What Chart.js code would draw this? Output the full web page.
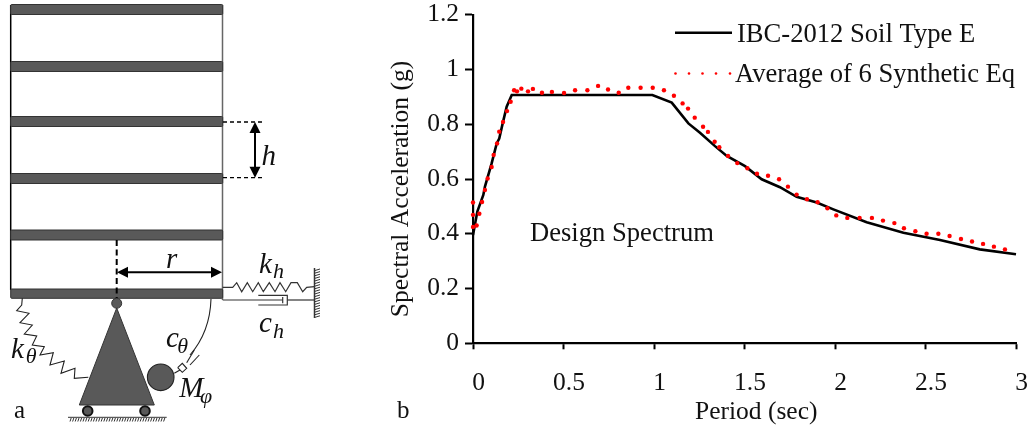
<!DOCTYPE html>
<html>
<head>
<meta charset="utf-8">
<title>Design Spectrum</title>
<script src="https://cdn.jsdelivr.net/npm/chart.js@4"></script>
<style>
   html, body { margin: 0; padding: 0; background: #fff; }
   canvas { display: block; }
</style>
</head>
<body>
<canvas id="chart" width="1034" height="429"></canvas>
<script>
// Values
const designPeriod = [0, 0.024, 0.057, 0.066, 0.103, 0.131, 0.145, 0.164, 0.186, 0.214, 0.991, 1.098, 1.19, 1.254, 1.337, 1.402, 1.503, 1.595, 1.696, 1.788, 1.899, 1.991, 2.175, 2.378, 2.58, 2.8, 3];
const designAccel = [0.395, 0.481, 0.542, 0.572, 0.657, 0.73, 0.748, 0.803, 0.864, 0.907, 0.907, 0.879, 0.803, 0.769, 0.72, 0.684, 0.647, 0.599, 0.57, 0.535, 0.514, 0.489, 0.442, 0.404, 0.377, 0.343, 0.325];
const avgPeriod = [0, 0, 0, 0.02, 0.035, 0.05, 0.066, 0.081, 0.103, 0.114, 0.133, 0.145, 0.166, 0.188, 0.208, 0.227, 0.243, 0.267, 0.304, 0.331, 0.381, 0.436, 0.503, 0.564, 0.632, 0.691, 0.746, 0.805, 0.858, 0.926, 0.993, 1.055, 1.11, 1.158, 1.188, 1.225, 1.271, 1.298, 1.335, 1.361, 1.409, 1.46, 1.516, 1.569, 1.63, 1.691, 1.74, 1.788, 1.845, 1.904, 1.958, 2.007, 2.068, 2.136, 2.204, 2.265, 2.328, 2.381, 2.444, 2.506, 2.571, 2.633, 2.696, 2.757, 2.818, 2.878, 2.939];
const avgAccel = [0.514, 0.469, 0.425, 0.43, 0.473, 0.516, 0.56, 0.602, 0.644, 0.688, 0.73, 0.773, 0.808, 0.848, 0.882, 0.924, 0.92, 0.93, 0.92, 0.929, 0.915, 0.918, 0.914, 0.924, 0.924, 0.94, 0.927, 0.915, 0.933, 0.933, 0.933, 0.924, 0.904, 0.876, 0.857, 0.824, 0.791, 0.772, 0.736, 0.716, 0.684, 0.658, 0.639, 0.619, 0.612, 0.599, 0.572, 0.543, 0.526, 0.515, 0.493, 0.467, 0.458, 0.458, 0.458, 0.448, 0.439, 0.42, 0.409, 0.4, 0.4, 0.392, 0.381, 0.372, 0.363, 0.353, 0.343];
const xTickLabels = ["0", "0.5", "1", "1.5", "2", "2.5", "3"];
const yTickLabels = ["0", "0.2", "0.4", "0.6", "0.8", "1", "1.2"];

const SERIF = "'Liberation Serif', serif";
const SLAB = "#595959";
const WIRE = "#333";
const AXIS_SIZE = 25.5;
const NOTE_SIZE = 26.6;

const toPoints = (xs, ys) => xs.map((x, i) => ({ x, y: ys[i] }));

const polyline = (ctx, pts) => {
   ctx.beginPath();
   pts.forEach((p, i) => (i ? ctx.lineTo(p[0], p[1]) : ctx.moveTo(p[0], p[1])));
   ctx.stroke();
};

const arrowHead = (ctx, x, y, dx, dy) => {
   // dx, dy points to the tip direction
   ctx.beginPath();
   ctx.moveTo(x, y);
   ctx.lineTo(x - dx * 11 - dy * 5.5, y - dy * 11 - dx * 5.5);
   ctx.lineTo(x - dx * 11 + dy * 5.5, y - dy * 11 + dx * 5.5);
   ctx.closePath();
   ctx.fill();
};

const label = (ctx, text, x, y, font) => {
   ctx.font = font;
   ctx.fillText(text, x, y);
};

// Building sketch on the left, it has no data behind it
const drawSketch = (ctx) => {
   ctx.save();
   ctx.lineCap = "butt";

   // walls
   ctx.lineWidth = 1.5;
   ctx.strokeStyle = "#000";
   polyline(ctx, [[10.7, 5], [10.7, 290]]);
   ctx.strokeStyle = "#666";
   polyline(ctx, [[222.5, 5], [222.5, 300]]);

   // floors
   [4.5, 61.5, 116.5, 173.5, 230, 289].forEach((y) => {
      ctx.fillStyle = SLAB;
      ctx.strokeStyle = "#333";
      ctx.lineWidth = 1;
      ctx.beginPath();
      ctx.roundRect(10.7, y, 212, y === 289 ? 9.3 : 10, 1);
      ctx.fill();
      ctx.stroke();
   });

   // h dimension
   ctx.strokeStyle = "#000";
   ctx.fillStyle = "#000";
   ctx.lineWidth = 1.3;
   ctx.setLineDash([4, 3]);
   polyline(ctx, [[223, 122], [264, 122]]);
   polyline(ctx, [[223, 177.7], [264, 177.7]]);
   ctx.setLineDash([]);
   ctx.lineWidth = 2;
   polyline(ctx, [[255, 128], [255, 172]]);
   arrowHead(ctx, 255, 122, 0, -1);
   arrowHead(ctx, 255, 177.7, 0, 1);

   // r dimension
   ctx.setLineDash([6, 3.5]);
   polyline(ctx, [[116.7, 240], [116.7, 298]]);
   ctx.setLineDash([]);
   polyline(ctx, [[124, 272.3], [216, 272.3]]);
   arrowHead(ctx, 117, 272.3, -1, 0);
   arrowHead(ctx, 222, 272.3, 1, 0);

   // hinge, triangle, wheels and ground
   ctx.fillStyle = SLAB;
   ctx.strokeStyle = "#333";
   ctx.lineWidth = 1;
   ctx.beginPath();
   ctx.arc(116.7, 303.3, 5, 0, Math.PI * 2);
   ctx.fill();
   ctx.stroke();
   ctx.beginPath();
   ctx.moveTo(116.7, 308);
   ctx.lineTo(154.3, 405);
   ctx.lineTo(79.3, 405);
   ctx.closePath();
   ctx.fill();
   ctx.stroke();
   ctx.strokeStyle = "#111";
   ctx.lineWidth = 2;
   [87.7, 145].forEach((x) => {
      ctx.beginPath();
      ctx.arc(x, 411, 4.8, 0, Math.PI * 2);
      ctx.fill();
      ctx.stroke();
   });
   ctx.strokeStyle = "#333";
   ctx.lineWidth = 1;
   polyline(ctx, [[68, 417.3], [166.7, 417.3]]);
   for (let x = 70; x < 166; x += 2.6) polyline(ctx, [[x + 1.2, 418], [x, 421.5]]);

   // support wall on the right
   ctx.lineWidth = 1.5;
   polyline(ctx, [[314.5, 268], [314.5, 318]]);
   ctx.lineWidth = 1;
   for (let y = 269; y < 318; y += 2.6) polyline(ctx, [[315, y + 1.5], [320, y]]);

   // horizontal spring and damper
   ctx.strokeStyle = WIRE;
   ctx.lineWidth = 1.2;
   polyline(ctx, [[222.7, 287.3], [232.7, 287.3], [236.7, 282.7], [241.7, 291.7], [247.3, 282.7], [252.7, 291.7], [258.3, 282.7], [263.3, 291.7], [269.3, 282.7], [275, 291.7], [280, 282.7], [285.7, 291.7], [291, 282.7], [297.3, 282.7], [302.7, 291.7], [306.7, 287.3], [314.5, 286.7]]);
   polyline(ctx, [[222.7, 300], [282.7, 300]]);
   polyline(ctx, [[287.3, 300], [314.5, 300]]);
   polyline(ctx, [[258.3, 295.3], [287.3, 295.3], [287.3, 305], [258.3, 305]]);
   polyline(ctx, [[282.7, 297], [282.7, 303.3]]);

   // rocking spring
   ctx.strokeStyle = "#222";
   ctx.lineWidth = 1.1;
   polyline(ctx, [[22.3, 298.3], [21.7, 305], [16.7, 310.7], [29, 313.3], [20, 322.7], [32.3, 325], [24.3, 334], [36.7, 336], [32.3, 345], [44.3, 346.7], [40, 355], [53.3, 352.7], [50, 365], [64.3, 361], [61, 373.3], [75, 368.3], [74.3, 378.3], [88.3, 377.3]]);

   // rocking damper and mass
   ctx.beginPath();
   ctx.moveTo(211, 299);
   ctx.quadraticCurveTo(210, 332, 190, 355);
   ctx.stroke();
   polyline(ctx, [[186.7, 362.7], [194.3, 350]]);
   polyline(ctx, [[190, 365], [199.3, 355]]);
   polyline(ctx, [[177.7, 367.7], [182.3, 363.3], [186.7, 368.3], [182.3, 372.3], [177.7, 367.7]]);
   polyline(ctx, [[180, 370], [174.3, 373.3]]);
   ctx.fillStyle = SLAB;
   ctx.beginPath();
   ctx.arc(160.7, 377.3, 13.3, 0, Math.PI * 2);
   ctx.fill();
   ctx.stroke();

   // symbols
   ctx.fillStyle = "#111";
   ctx.textAlign = "left";
   ctx.textBaseline = "alphabetic";
   const big = "italic 29px " + SERIF;
   const small = "italic 22px " + SERIF;
   label(ctx, "h", 261.5, 165, big);
   label(ctx, "r", 166, 268, big);
   label(ctx, "k", 259, 273, big);
   label(ctx, "h", 273, 278, small);
   label(ctx, "c", 259, 331.7, big);
   label(ctx, "h", 273, 337.7, small);
   label(ctx, "k", 11, 358, big);
   label(ctx, "θ", 25.7, 363.3, small);
   label(ctx, "c", 166, 346.7, big);
   label(ctx, "θ", 177.3, 353.3, small);
   label(ctx, "M", 179.3, 396.7, big);
   label(ctx, "φ", 200, 403.3, small);
   label(ctx, "a", 14, 418, "25px " + SERIF);
   label(ctx, "b", 397, 418, "25px " + SERIF);
   ctx.restore();
};

// Legend, the note inside the plot and both axis titles (they sit off centre)
const drawNotes = (ctx) => {
   ctx.save();
   ctx.fillStyle = "#111";
   ctx.textAlign = "left";
   ctx.textBaseline = "alphabetic";
   ctx.font = NOTE_SIZE + "px " + SERIF;
   ctx.fillText("IBC-2012 Soil Type E", 737, 42);
   ctx.fillText("Average of 6 Synthetic Eq", 735, 82);
   ctx.fillText("Design Spectrum", 530, 241);
   ctx.font = AXIS_SIZE + "px " + SERIF;
   ctx.fillText("Period (sec)", 695, 419);

   ctx.save();
   ctx.translate(401, 189);
   ctx.rotate(-Math.PI / 2);
   ctx.textAlign = "center";
   ctx.textBaseline = "middle";
   ctx.fillText("Spectral Acceleration (g)", 0, 0);
   ctx.restore();

   ctx.strokeStyle = "#000";
   ctx.lineWidth = 2.5;
   polyline(ctx, [[675, 32.7], [732, 32.7]]);
   ctx.fillStyle = "#ff0000";
   [675.5, 689, 702.5, 716, 730].forEach((x) => {
      ctx.beginPath();
      ctx.arc(x, 73.5, 1.3, 0, Math.PI * 2);
      ctx.fill();
   });
   ctx.restore();
};

const sketchPlugin = {
   id: "sketch",
   afterDraw(chart) {
      drawSketch(chart.ctx);
      drawNotes(chart.ctx);
   },
};

// Without this the label overhang is added on top of layout.padding
const dropOverhang = (axis) => {
   axis.paddingTop = 0;
   axis.paddingBottom = 0;
   axis.paddingLeft = 0;
   axis.paddingRight = 0;
};

Chart.defaults.font.family = SERIF;
Chart.defaults.color = "#111";

const chart = new Chart(document.getElementById("chart").getContext("2d"), {
   type: "scatter",
   data: {
      datasets: [
         {
            label: "Average of 6 Synthetic Eq",
            data: toPoints(avgPeriod, avgAccel),
            showLine: false,
            pointRadius: 2.2,
            pointBackgroundColor: "#ff0000",
            pointBorderWidth: 0,
            clip: false,
            order: 1,
         },
         {
            label: "IBC-2012 Soil Type E",
            data: toPoints(designPeriod, designAccel),
            showLine: true,
            borderColor: "#000",
            borderWidth: 2.6,
            tension: 0,
            pointRadius: 0,
            clip: false,
            order: 2,
         },
      ],
   },
   options: {
      responsive: false,
      animation: false,
      layout: { padding: { left: 389, top: 14.7, right: 18, bottom: 0 } },
      plugins: {
         legend: { display: false },
         tooltip: { enabled: false },
      },
      scales: {
         x: {
            type: "linear",
            min: 0,
            max: 3,
            afterBuildTicks: (axis) => { axis.ticks = xTickLabels.map((t) => ({ value: Number(t) })); },
            afterFit: (axis) => { axis.height = 85.7; dropOverhang(axis); },
            grid: { drawOnChartArea: false, tickLength: 6, tickColor: "#000", tickWidth: 2 },
            border: { color: "#000", width: 2.2 },
            ticks: {
               font: { size: AXIS_SIZE },
               color: "#111",
               padding: 19,
               labelOffset: 5.5,
               maxRotation: 0,
               autoSkip: false,
               callback: (value, i) => xTickLabels[i],
            },
         },
         y: {
            min: 0,
            max: 1.2,
            afterBuildTicks: (axis) => { axis.ticks = yTickLabels.map((t) => ({ value: Number(t) })); },
            afterFit: (axis) => { axis.width = 84; dropOverhang(axis); },
            grid: { drawOnChartArea: false, tickLength: 8, tickColor: "#000", tickWidth: 2 },
            border: { color: "#000", width: 2.2 },
            ticks: {
               font: { size: AXIS_SIZE },
               color: "#111",
               padding: 6,
               autoSkip: false,
               callback: (value, i) => yTickLabels[i],
            },
         },
      },
   },
   plugins: [sketchPlugin],
});
</script>
</body>
</html>
